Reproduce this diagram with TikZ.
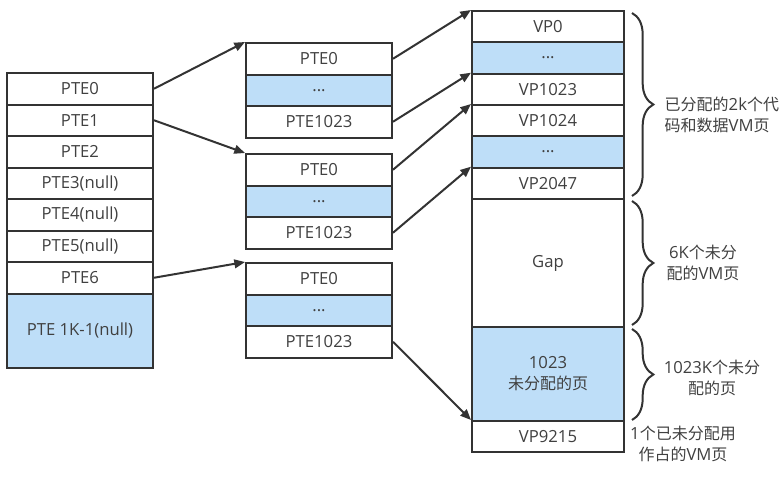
\documentclass[tikz,border=0pt]{standalone}
\usepackage{fontspec}
\setmainfont{Open Sans}
\newfontfamily\cjk{Noto Sans CJK SC}[Scale=0.96]
\usetikzlibrary{arrows.meta,decorations.pathreplacing}
\definecolor{cellblue}{RGB}{190,222,248}
\definecolor{ink}{RGB}{51,51,51}
\definecolor{txt}{RGB}{64,64,64}
\begin{document}
\begin{tikzpicture}[x=0.75pt,y=-0.75pt,
  every node/.style={font=\fontsize{12.5}{16}\selectfont, text=txt},
  cell/.style={draw=ink, line width=1.5pt, fill=white, inner sep=0pt, align=center},
  cellL/.style={cell, minimum width=109.5pt, minimum height=23.625pt},
  cellM/.style={cell, minimum width=109.5pt, minimum height=23.625pt},
  cellR/.style={cell, minimum width=114pt, minimum height=23.5pt},
  blue/.style={fill=cellblue},
  arr/.style={draw=ink, line width=1.5pt, -{Triangle[length=8pt,width=6.5pt]}},
  bracestyle/.style={draw=ink, line width=1.5pt, decorate, decoration={brace, amplitude=16pt}},
  lab/.style={align=center, font=\fontsize{12.5}{15.75}\selectfont}
]
\useasboundingbox (0,0) rectangle (780,486);
% left column
\node[cellL] (l0) at (80,88.75) {PTE0};
\node[cellL] (l1) at (80,120.25) {PTE1};
\node[cellL] (l2) at (80,151.75) {PTE2};
\node[cellL] (l3) at (80,183.25) {PTE3(null)};
\node[cellL] (l4) at (80,214.75) {PTE4(null)};
\node[cellL] (l5) at (80,246.25) {PTE5(null)};
\node[cellL] (l6) at (80,277.75) {PTE6};
\node[cellL, blue, minimum height=55.875pt] (lk) at (80,330.75) {PTE 1K-1(null)};
% middle block 1
\node[cellM] (a0) at (319,58.75) {PTE0};
\node[cellM, blue] (ad) at (319,90.25) {...};
\node[cellM] (a1) at (319,121.75) {PTE1023};
% middle block 2
\node[cellM] (b0) at (319,169.75) {PTE0};
\node[cellM, blue] (bd) at (319,201.25) {...};
\node[cellM] (b1) at (319,232.75) {PTE1023};
% middle block 3
\node[cellM] (c0) at (319,278.75) {PTE0};
\node[cellM, blue] (cd) at (319,310.25) {...};
\node[cellM] (c1) at (319,341.75) {PTE1023};
% right column
\node[cellR] (vp0) at (548,26.67) {VP0};
\node[cellR, blue] (vd1) at (548,58) {...};
\node[cellR] (vp1023) at (548,89.33) {VP1023};
\node[cellR] (vp1024) at (548,120.67) {VP1024};
\node[cellR, blue] (vd2) at (548,152) {...};
\node[cellR] (vp2047) at (548,183.33) {VP2047};
\node[cellR, minimum height=96pt] (gap) at (548,263) {Gap};
\node[cellR, blue, minimum height=70.5pt, font=\fontsize{12.5}{15.75}\selectfont] (un) at (548,374) {1023\\{\cjk 未分配的页}};
\node[cellR, minimum height=23.25pt] (vp9215) at (548,436.5) {VP9215};
% arrows
\draw[arr] (l0.east) -- (a0.north west);
\draw[arr] (l1.east) -- (b0.north west);
\draw[arr] (l6.east) -- (c0.north west);
\draw[arr] (a0.east) -- (vp0.north west);
\draw[arr] (a1.east) -- (vp1023.north west);
\draw[arr] (b0.east) -- (vp1024.north west);
\draw[arr] (b1.east) -- (vp2047.north west);
\draw[arr] (c1.east) -- (vp9215.north west);
% braces
\coordinate (br1a) at (632,13);
\coordinate (br1b) at (632,196);
\coordinate (br2a) at (632,201);
\coordinate (br2b) at (632,325);
\coordinate (br3a) at (632,329);
\coordinate (br3b) at (632,420);
\draw[bracestyle] (br1a) -- (br1b);
\draw[bracestyle] (br2a) -- (br2b);
\draw[bracestyle] (br3a) -- (br3b);
% labels
\node[lab, align=left, anchor=west] (t1) at (660,115) {{\cjk 已分配的}2k{\cjk 个代}\\{\cjk 码和数据}VM{\cjk 页}};
\node[lab] (t2) at (703,263) {6K{\cjk 个未分}\\{\cjk 配的}VM{\cjk 页}};
\node[lab] (t3) at (712,378) {1023K{\cjk 个未分}\\{\cjk 配的页}};
\node[lab] (t4) at (683,444) {1{\cjk 个已未分配用}\\{\cjk 作占的}VM{\cjk 页}};
\end{tikzpicture}
\end{document}
